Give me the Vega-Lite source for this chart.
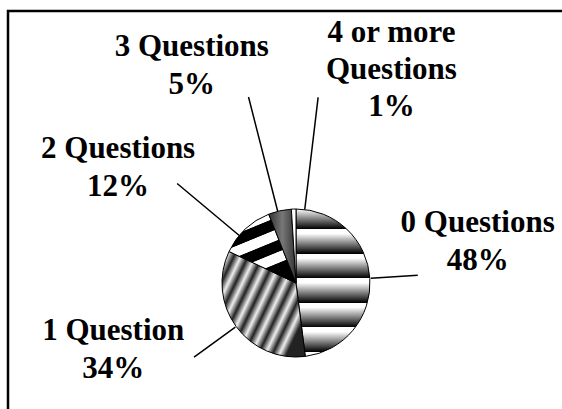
{
  "$schema": "https://vega.github.io/schema/vega-lite/v6.json",
  "width": 557,
  "height": 401,
  "autosize": {"type": "none"},
  "padding": {"left": 8, "top": 11, "right": -3, "bottom": -3},
  "background": "white",
  "config": {"view": {"stroke": "#000", "strokeWidth": 2.5}},
  "data": {"values": [
    {"cat": "0 Questions", "pct": 48, "label": "0 Questions\n48%"},
    {"cat": "1 Question", "pct": 34, "label": "1 Question\n34%"},
    {"cat": "2 Questions", "pct": 12, "label": "2 Questions\n12%"},
    {"cat": "3 Questions", "pct": 5, "label": "3 Questions\n5%"},
    {"cat": "4 or more Questions", "pct": 1, "label": "4 or more\nQuestions\n1%"}
  ]},
  "encoding": {
    "theta": {"field": "pct", "type": "quantitative", "stack": true},
    "detail": {"field": "cat", "type": "nominal"},
    "order": {"field": "cat", "type": "nominal", "sort": "ascending"},
    "x": {"value": 288},
    "y": {"value": 272}
  },
  "layer": [
    {
      "mark": {"type": "arc", "radius": 74, "stroke": "#000", "strokeWidth": 1},
      "encoding": {
        "fill": {
          "condition": [
            {"test": "datum.cat === '0 Questions'", "value": {"gradient": "linear", "x1": 0, "y1": 0, "x2": 0, "y2": 1, "stops": [
              {"offset": 0, "color": "#ffffff"}, {"offset": 0.135, "color": "#000000"}, {"offset": 0.136, "color": "#ffffff"},
              {"offset": 0.1667, "color": "#ffffff"}, {"offset": 0.302, "color": "#000000"}, {"offset": 0.303, "color": "#ffffff"},
              {"offset": 0.3333, "color": "#ffffff"}, {"offset": 0.468, "color": "#000000"}, {"offset": 0.469, "color": "#ffffff"},
              {"offset": 0.5, "color": "#ffffff"}, {"offset": 0.635, "color": "#000000"}, {"offset": 0.636, "color": "#ffffff"},
              {"offset": 0.6667, "color": "#ffffff"}, {"offset": 0.802, "color": "#000000"}, {"offset": 0.803, "color": "#ffffff"},
              {"offset": 0.8333, "color": "#ffffff"}, {"offset": 0.968, "color": "#000000"}, {"offset": 0.969, "color": "#ffffff"},
              {"offset": 1, "color": "#ffffff"}
            ]}},
            {"test": "datum.cat === '1 Question'", "value": {"gradient": "linear", "x1": 0, "y1": 0, "x2": 1, "y2": 0.6, "stops": [
              {"offset": 0, "color": "#222222"}, {"offset": 0.0625, "color": "#eeeeee"},
              {"offset": 0.125, "color": "#222222"}, {"offset": 0.1875, "color": "#eeeeee"},
              {"offset": 0.25, "color": "#222222"}, {"offset": 0.3125, "color": "#eeeeee"},
              {"offset": 0.375, "color": "#222222"}, {"offset": 0.4375, "color": "#eeeeee"},
              {"offset": 0.5, "color": "#222222"}, {"offset": 0.5625, "color": "#eeeeee"},
              {"offset": 0.625, "color": "#222222"}, {"offset": 0.6875, "color": "#eeeeee"},
              {"offset": 0.75, "color": "#222222"}, {"offset": 0.8125, "color": "#eeeeee"},
              {"offset": 0.875, "color": "#222222"}, {"offset": 0.9375, "color": "#eeeeee"},
              {"offset": 1, "color": "#222222"}
            ]}},
            {"test": "datum.cat === '2 Questions'", "value": {"gradient": "linear", "x1": 0, "y1": 0, "x2": 0.4, "y2": 1, "stops": [
              {"offset": 0, "color": "#000000"}, {"offset": 0.14, "color": "#000000"}, {"offset": 0.15, "color": "#ffffff"},
              {"offset": 0.28, "color": "#ffffff"}, {"offset": 0.29, "color": "#000000"}, {"offset": 0.43, "color": "#000000"},
              {"offset": 0.44, "color": "#ffffff"}, {"offset": 0.57, "color": "#ffffff"}, {"offset": 0.58, "color": "#000000"},
              {"offset": 0.72, "color": "#000000"}, {"offset": 0.73, "color": "#ffffff"}, {"offset": 0.86, "color": "#ffffff"},
              {"offset": 0.87, "color": "#000000"}, {"offset": 1, "color": "#000000"}
            ]}},
            {"test": "datum.cat === '3 Questions'", "value": {"gradient": "linear", "x1": 0, "y1": 0, "x2": 1, "y2": 0, "stops": [
              {"offset": 0, "color": "#333333"}, {"offset": 0.5, "color": "#777777"}, {"offset": 1, "color": "#333333"}
            ]}}
          ],
          "value": "#ffffff"
        }
      }
    },
    {
      "mark": {"type": "arc", "radius": 122, "radius2": 75, "padAngle": 3.2, "filled": false, "stroke": "#000", "strokeWidth": 1.5},
      "encoding": {"strokeOpacity": {"condition": {"test": "datum.cat === '0 Questions'", "value": 1}, "value": 0}}
    },
    {
      "mark": {"type": "arc", "radius": 126, "radius2": 75, "padAngle": 3.2, "filled": false, "stroke": "#000", "strokeWidth": 1.5},
      "encoding": {"strokeOpacity": {"condition": {"test": "datum.cat === '1 Question'", "value": 1}, "value": 0}}
    },
    {
      "mark": {"type": "arc", "radius": 155, "radius2": 74, "padAngle": 3.2, "thetaOffset": -0.12, "theta2Offset": -0.12, "filled": false, "stroke": "#000", "strokeWidth": 1.5},
      "encoding": {"strokeOpacity": {"condition": {"test": "datum.cat === '2 Questions'", "value": 1}, "value": 0}}
    },
    {
      "mark": {"type": "arc", "radius": 192, "radius2": 74, "padAngle": 3.2, "thetaOffset": -0.03, "theta2Offset": -0.03, "filled": false, "stroke": "#000", "strokeWidth": 1.5},
      "encoding": {"strokeOpacity": {"condition": {"test": "datum.cat === '3 Questions'", "value": 1}, "value": 0}}
    },
    {
      "mark": {"type": "arc", "radius": 187, "radius2": 74, "padAngle": 3.2, "thetaOffset": 0.15, "theta2Offset": 0.15, "filled": false, "stroke": "#000", "strokeWidth": 1.5},
      "encoding": {"strokeOpacity": {"condition": {"test": "datum.cat === '4 or more Questions'", "value": 1}, "value": 0}}
    },
    {
      "mark": {"type": "text", "radius": 180, "dx": 2, "dy": -40, "align": "center", "baseline": "alphabetic", "font": "Liberation Serif", "fontWeight": "bold", "fontSize": 31, "lineHeight": 38, "lineBreak": "\n", "color": "#000"},
      "encoding": {"text": {"condition": {"test": "datum.cat === '0 Questions'", "field": "label"}, "value": ""}}
    },
    {
      "mark": {"type": "text", "radius": 200, "dx": -21, "dy": -61, "align": "center", "baseline": "alphabetic", "font": "Liberation Serif", "fontWeight": "bold", "fontSize": 31, "lineHeight": 38, "lineBreak": "\n", "color": "#000"},
      "encoding": {"text": {"condition": {"test": "datum.cat === '1 Question'", "field": "label"}, "value": ""}}
    },
    {
      "mark": {"type": "text", "radius": 200, "dx": -41, "dy": 21, "align": "center", "baseline": "alphabetic", "font": "Liberation Serif", "fontWeight": "bold", "fontSize": 31, "lineHeight": 38, "lineBreak": "\n", "color": "#000"},
      "encoding": {"text": {"condition": {"test": "datum.cat === '2 Questions'", "field": "label"}, "value": ""}}
    },
    {
      "mark": {"type": "text", "radius": 230, "dx": -54, "dy": -3, "align": "center", "baseline": "alphabetic", "font": "Liberation Serif", "fontWeight": "bold", "fontSize": 31, "lineHeight": 38, "lineBreak": "\n", "color": "#000"},
      "encoding": {"text": {"condition": {"test": "datum.cat === '3 Questions'", "field": "label"}, "value": ""}}
    },
    {
      "mark": {"type": "text", "radius": 240, "dx": 103, "dy": -1, "align": "center", "baseline": "alphabetic", "font": "Liberation Serif", "fontWeight": "bold", "fontSize": 31, "lineHeight": 37, "lineBreak": "\n", "color": "#000"},
      "encoding": {"text": {"condition": {"test": "datum.cat === '4 or more Questions'", "field": "label"}, "value": ""}}
    }
  ]
}
